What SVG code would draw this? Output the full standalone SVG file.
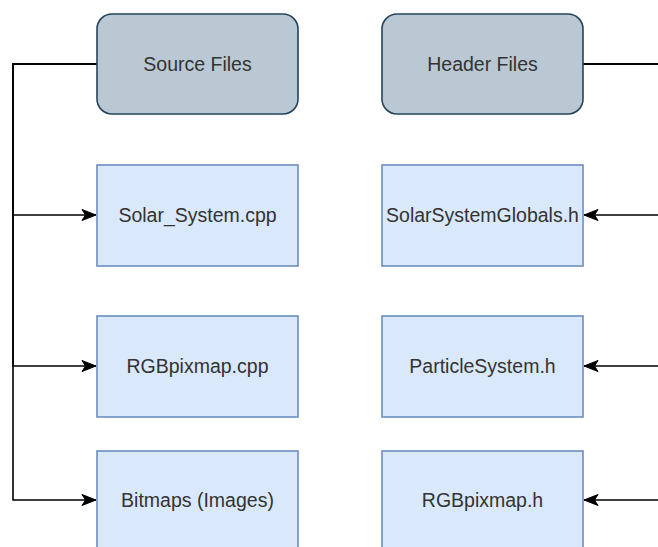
<svg xmlns="http://www.w3.org/2000/svg" width="658" height="547" viewBox="0 0 658 547">
<style>
.hdr{fill:#bac8d3;stroke:#23445d;stroke-width:1.6}
.file{fill:#dae8fc;stroke:#6c8ebf;stroke-width:1.6}
.lbl{font-family:"Liberation Sans",Arial,sans-serif;font-size:19.5px;fill:#333333;text-anchor:middle;dominant-baseline:central}
.edge{fill:none;stroke:#000000;stroke-width:1.6}
</style>
<defs>
<marker id="arr" markerUnits="userSpaceOnUse" markerWidth="20" markerHeight="16" viewBox="-16 -8 18 16" refX="0" refY="0" orient="auto">
<path d="M0,0 L-14,-5.5 L-10.5,0 L-14,5.5 Z" fill="#000000" stroke="#000000" stroke-width="1"/>
</marker>
</defs>
<rect width="658" height="547" fill="#ffffff"/>
<g id="connectors">
<path class="edge" d="M97,64 H13 V215 H96" marker-end="url(#arr)"/>
<path class="edge" d="M97,64 H13 V366 H96" marker-end="url(#arr)"/>
<path class="edge" d="M97,64 H13 V500 H96" marker-end="url(#arr)"/>
<path class="edge" d="M583,64 H670 V215 H584" marker-end="url(#arr)"/>
<path class="edge" d="M583,64 H670 V366 H584" marker-end="url(#arr)"/>
<path class="edge" d="M583,64 H670 V500 H584" marker-end="url(#arr)"/>
</g>
<g id="source-files">
<rect class="hdr" x="97" y="14" width="201" height="100" rx="15" ry="15"/>
<text class="lbl" x="197.5" y="64">Source Files</text>
</g>
<g id="header-files">
<rect class="hdr" x="382" y="14" width="201" height="100" rx="15" ry="15"/>
<text class="lbl" x="482.5" y="64">Header Files</text>
</g>
<g id="solar-system-cpp">
<rect class="file" x="97" y="165" width="201" height="101"/>
<text class="lbl" x="197.5" y="215">Solar_System.cpp</text>
</g>
<g id="solar-system-globals-h">
<rect class="file" x="382" y="165" width="201" height="101"/>
<text class="lbl" x="482.5" y="215">SolarSystemGlobals.h</text>
</g>
<g id="rgbpixmap-cpp">
<rect class="file" x="97" y="316" width="201" height="101"/>
<text class="lbl" x="197.5" y="366">RGBpixmap.cpp</text>
</g>
<g id="particle-system-h">
<rect class="file" x="382" y="316" width="201" height="101"/>
<text class="lbl" x="482.5" y="366">ParticleSystem.h</text>
</g>
<g id="bitmaps">
<rect class="file" x="97" y="451" width="201" height="101"/>
<text class="lbl" x="197.5" y="500">Bitmaps (Images)</text>
</g>
<g id="rgbpixmap-h">
<rect class="file" x="382" y="451" width="201" height="101"/>
<text class="lbl" x="482.5" y="500">RGBpixmap.h</text>
</g>
</svg>
